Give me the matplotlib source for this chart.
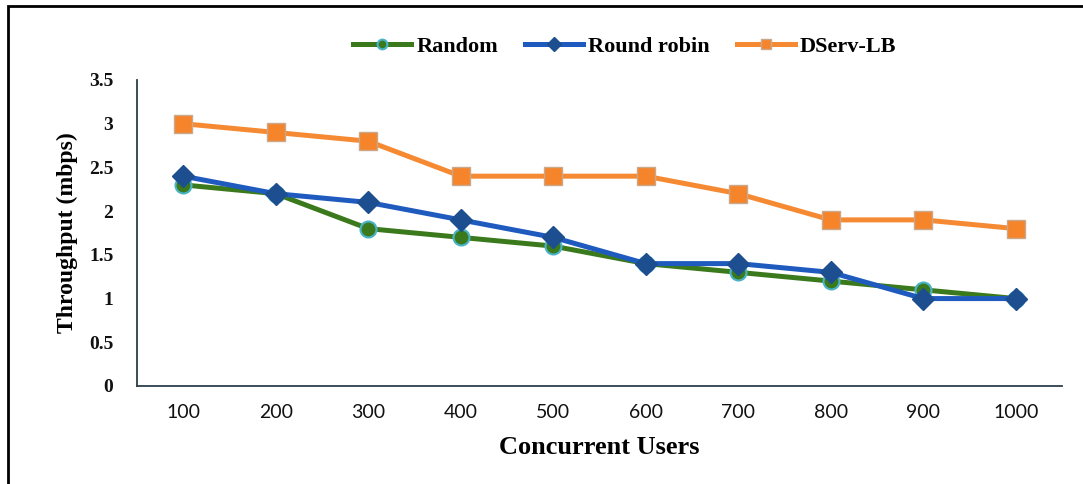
import matplotlib
matplotlib.use("Agg")
import matplotlib.pyplot as plt
from matplotlib.patches import Rectangle

users = ["100", "200", "300", "400", "500", "600", "700", "800", "900", "1000"]
random_tp = [2.3, 2.2, 1.8, 1.7, 1.6, 1.4, 1.3, 1.2, 1.1, 1.0]
round_robin_tp = [2.4, 2.2, 2.1, 1.9, 1.7, 1.4, 1.4, 1.3, 1.0, 1.0]
dserv_tp = [3.0, 2.9, 2.8, 2.4, 2.4, 2.4, 2.2, 1.9, 1.9, 1.8]
y_ticks = [0, 0.5, 1, 1.5, 2, 2.5, 3, 3.5]
y_tick_labels = ["0", "0.5", "1", "1.5", "2", "2.5", "3", "3.5"]

W, H = 1083, 484
fig = plt.figure(figsize=(W / 100, H / 100), dpi=100)
ax = fig.add_axes([137 / W, 1 - 386 / H, (1062 - 137) / W, (386 - 80) / H])

x = list(range(len(users)))
ax.plot(x, random_tp, color="#3b7a1c", lw=3.6, marker="o", ms=11.5,
        mfc="#3b7a1c", mec="#4bb3c8", mew=1.5, label="Random", zorder=3)
ax.plot(x, round_robin_tp, color="#1f5bbf", lw=3.6, marker="D", ms=11,
        mfc="#1d4e8f", mec="#1d4e8f", label="Round robin", zorder=4)
ax.plot(x, dserv_tp, color="#f58a33", lw=3.6, marker="s", ms=13,
        mfc="#f5842b", mec="#c9a88c", mew=1, label="DServ-LB", zorder=2)

ax.set_xlim(-0.5, len(users) - 0.5)
ax.set_ylim(0, 3.5)
ax.set_xticks(x)
ax.set_xticklabels(users, fontfamily="Lato", fontsize=14, color="#111111")
ax.set_yticks(y_ticks)
ax.set_yticklabels(y_tick_labels, fontfamily="Liberation Serif",
                   fontweight="bold", fontsize=14, color="#111111")
ax.tick_params(axis="both", length=0)
ax.tick_params(axis="x", pad=13)
ax.tick_params(axis="y", pad=17)
for s in ["top", "right"]:
    ax.spines[s].set_visible(False)
for s in ["left", "bottom"]:
    ax.spines[s].set_color("#2b3f4c")
    ax.spines[s].set_linewidth(1.3)

ax.set_xlabel("Concurrent Users", fontfamily="Liberation Serif",
              fontweight="bold", fontsize=19, labelpad=11)
ax.set_ylabel("Throughput (mbps)", fontfamily="Liberation Serif",
              fontweight="bold", fontsize=17, labelpad=8)

leg = fig.legend(loc="center", bbox_to_anchor=(625 / W, 1 - 47 / H),
                 ncol=3, frameon=False, handlelength=2.6, columnspacing=1.2,
                 handletextpad=0.25,
                 prop={"family": "Liberation Serif", "weight": "bold", "size": 16})
for h in leg.legend_handles:
    h.set_markersize(7)

fig.patches.append(Rectangle((8 / W, -0.05), 1.1, 1 - 6 / H + 0.05,
                             transform=fig.transFigure, fill=False,
                             edgecolor="black", lw=2))

fig.savefig("out.png", dpi=100, facecolor="white")
